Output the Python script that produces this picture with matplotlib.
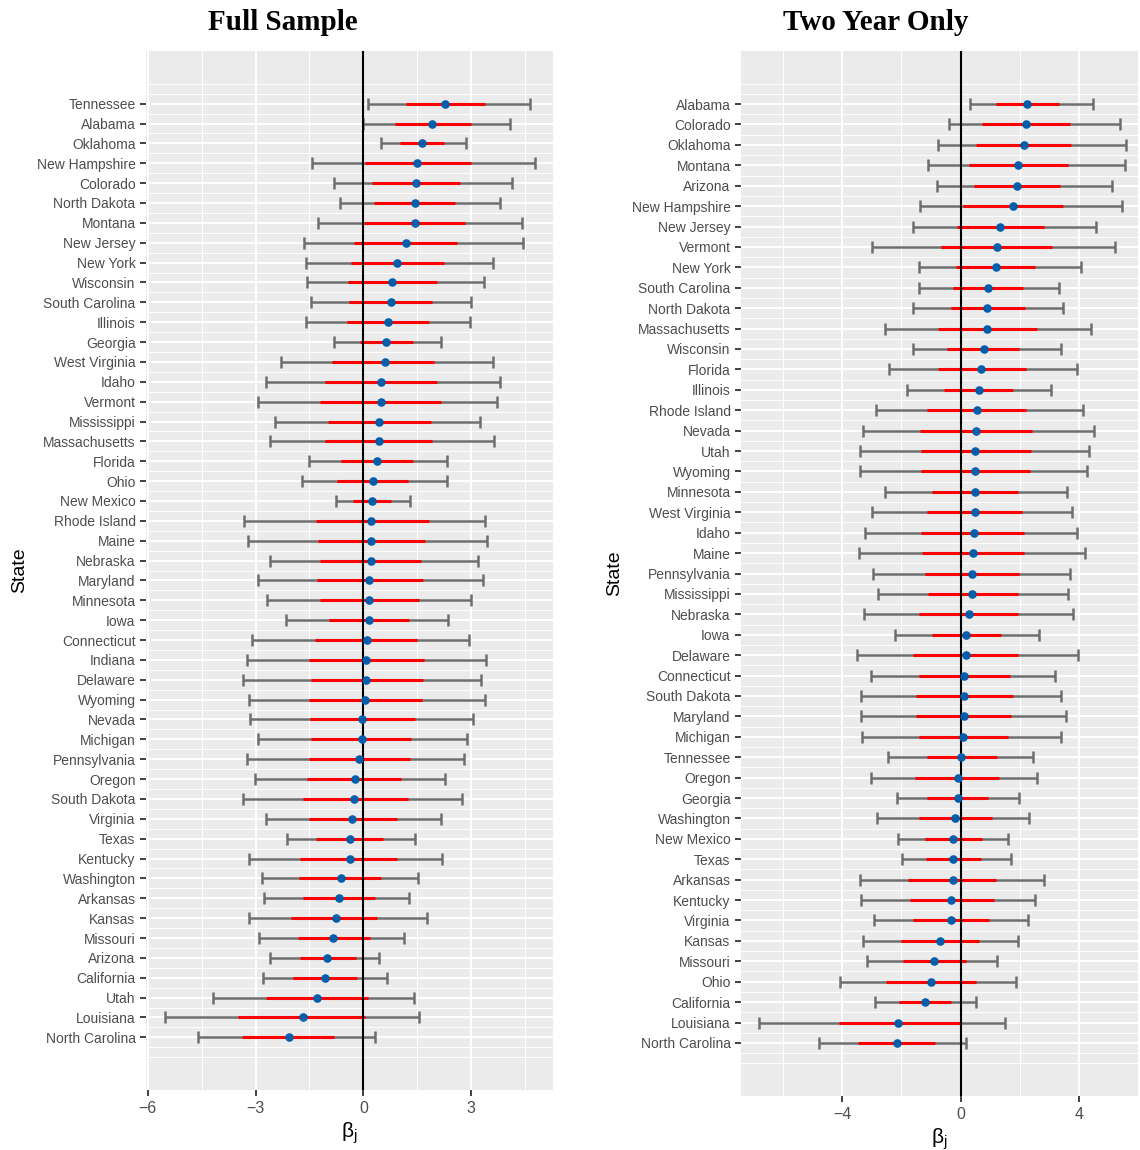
import numpy as np
import matplotlib
matplotlib.use("Agg")
import matplotlib.pyplot as plt

# ---- Full sample (top to bottom) ----
full_states = ["Tennessee", "Alabama", "Oklahoma", "New Hampshire", "Colorado", "North Dakota",
               "Montana", "New Jersey", "New York", "Wisconsin", "South Carolina", "Illinois",
               "Georgia", "West Virginia", "Idaho", "Vermont", "Mississippi", "Massachusetts",
               "Florida", "Ohio", "New Mexico", "Rhode Island", "Maine", "Nebraska", "Maryland",
               "Minnesota", "Iowa", "Connecticut", "Indiana", "Delaware", "Wyoming", "Nevada",
               "Michigan", "Pennsylvania", "Oregon", "South Dakota", "Virginia", "Texas",
               "Kentucky", "Washington", "Arkansas", "Kansas", "Missouri", "Arizona",
               "California", "Utah", "Louisiana", "North Carolina"]
full_est = [2.27, 1.92, 1.62, 1.50, 1.46, 1.44, 1.43, 1.19, 0.94, 0.81, 0.76, 0.69,
            0.64, 0.59, 0.50, 0.48, 0.44, 0.43, 0.38, 0.27, 0.24, 0.22, 0.21, 0.21, 0.17,
            0.17, 0.15, 0.09, 0.08, 0.07, 0.05, -0.03, -0.05, -0.13, -0.24, -0.26, -0.31,
            -0.38, -0.38, -0.62, -0.69, -0.77, -0.85, -1.00, -1.06, -1.29, -1.68, -2.06]
full_lo_in = [1.20, 0.89, 1.02, 0.06, 0.24, 0.30, 0.02, -0.26, -0.33, -0.42, -0.39, -0.46,
              -0.10, -0.86, -1.06, -1.20, -0.99, -1.06, -0.61, -0.72, -0.28, -1.33, -1.27,
              -1.21, -1.30, -1.20, -0.95, -1.34, -1.51, -1.45, -1.51, -1.48, -1.46, -1.52,
              -1.56, -1.68, -1.52, -1.32, -1.75, -1.78, -1.69, -2.00, -1.83, -1.75, -1.95,
              -2.71, -3.49, -3.37]
full_hi_in = [3.40, 2.99, 2.24, 2.99, 2.70, 2.56, 2.82, 2.62, 2.24, 2.05, 1.92, 1.82,
              1.39, 1.98, 2.05, 2.16, 1.88, 1.91, 1.37, 1.23, 0.77, 1.83, 1.73, 1.60, 1.66,
              1.56, 1.26, 1.49, 1.68, 1.66, 1.62, 1.44, 1.34, 1.31, 1.05, 1.23, 0.93, 0.55,
              0.94, 0.48, 0.32, 0.39, 0.18, -0.20, -0.17, 0.12, 0.06, -0.83]
full_lo_out = [0.13, 0.00, 0.48, -1.44, -0.81, -0.65, -1.26, -1.64, -1.59, -1.56, -1.45,
               -1.60, -0.83, -2.29, -2.71, -2.94, -2.45, -2.61, -1.52, -1.70, -0.77, -3.33,
               -3.20, -2.59, -2.93, -2.68, -2.14, -3.11, -3.25, -3.34, -3.19, -3.16, -2.92,
               -3.25, -3.01, -3.34, -2.70, -2.13, -3.17, -2.83, -2.76, -3.18, -2.90, -2.59,
               -2.79, -4.19, -5.53, -4.60]
full_hi_out = [4.63, 4.08, 2.86, 4.77, 4.13, 3.81, 4.43, 4.44, 3.60, 3.35, 3.01, 2.96,
               2.15, 3.61, 3.81, 3.72, 3.24, 3.63, 2.32, 2.34, 1.30, 3.40, 3.44, 3.19, 3.33,
               2.99, 2.37, 2.93, 3.41, 3.27, 3.40, 3.04, 2.88, 2.81, 2.28, 2.74, 2.15, 1.44,
               2.19, 1.51, 1.28, 1.78, 1.13, 0.45, 0.67, 1.42, 1.54, 0.32]

# ---- Two year only (top to bottom) ----
two_states = ["Alabama", "Colorado", "Oklahoma", "Montana", "Arizona", "New Hampshire",
              "New Jersey", "Vermont", "New York", "South Carolina", "North Dakota",
              "Massachusetts", "Wisconsin", "Florida", "Illinois", "Rhode Island", "Nevada",
              "Utah", "Wyoming", "Minnesota", "West Virginia", "Idaho", "Maine", "Pennsylvania",
              "Mississippi", "Nebraska", "Iowa", "Delaware", "Connecticut", "South Dakota",
              "Maryland", "Michigan", "Tennessee", "Oregon", "Georgia", "Washington",
              "New Mexico", "Texas", "Arkansas", "Kentucky", "Virginia", "Kansas", "Missouri",
              "Ohio", "California", "Louisiana", "North Carolina"]
two_est = [2.26, 2.20, 2.14, 1.95, 1.90, 1.79, 1.34, 1.22, 1.19, 0.92, 0.91, 0.89, 0.78,
           0.69, 0.61, 0.56, 0.54, 0.50, 0.50, 0.50, 0.49, 0.45, 0.41, 0.40, 0.40, 0.28,
           0.19, 0.18, 0.13, 0.11, 0.11, 0.08, 0.03, -0.10, -0.10, -0.18, -0.25, -0.25,
           -0.27, -0.32, -0.32, -0.69, -0.90, -0.99, -1.19, -2.10, -2.15]
two_lo_in = [1.21, 0.72, 0.54, 0.28, 0.47, 0.09, -0.13, -0.65, -0.16, -0.27, -0.32, -0.77,
             -0.46, -0.76, -0.56, -1.13, -1.36, -1.33, -1.32, -0.97, -1.13, -1.32, -1.30,
             -1.20, -1.10, -1.40, -0.95, -1.62, -1.40, -1.52, -1.51, -1.41, -1.12, -1.54,
             -1.12, -1.41, -1.20, -1.17, -1.78, -1.71, -1.61, -2.01, -1.96, -2.51, -2.07,
             -4.10, -3.47]
two_hi_in = [3.32, 3.70, 3.73, 3.64, 3.37, 3.45, 2.83, 3.09, 2.52, 2.12, 2.18, 2.59, 1.99,
             2.21, 1.76, 2.21, 2.40, 2.38, 2.35, 1.96, 2.08, 2.16, 2.15, 1.99, 1.95, 1.93,
             1.37, 1.93, 1.66, 1.78, 1.70, 1.61, 1.22, 1.30, 0.94, 1.08, 0.71, 0.68, 1.19,
             1.12, 0.97, 0.61, 0.20, 0.53, -0.31, 0.00, -0.86]
two_lo_out = [0.31, -0.40, -0.75, -1.09, -0.78, -1.38, -1.59, -2.99, -1.40, -1.40, -1.61,
              -2.55, -1.60, -2.42, -1.80, -2.87, -3.31, -3.39, -3.39, -2.55, -2.99, -3.23,
              -3.44, -2.96, -2.78, -3.26, -2.22, -3.51, -3.01, -3.36, -3.38, -3.33, -2.45,
              -3.03, -2.14, -2.82, -2.11, -1.98, -3.39, -3.38, -2.94, -3.28, -3.16, -4.07,
              -2.89, -6.80, -4.78]
two_hi_out = [4.48, 5.38, 5.61, 5.57, 5.11, 5.45, 4.58, 5.22, 4.06, 3.33, 3.46, 4.41, 3.41,
              3.94, 3.05, 4.13, 4.50, 4.34, 4.29, 3.59, 3.78, 3.94, 4.20, 3.69, 3.64, 3.81,
              2.67, 3.98, 3.18, 3.41, 3.55, 3.39, 2.45, 2.58, 1.99, 2.33, 1.62, 1.70, 2.82,
              2.53, 2.29, 1.96, 1.25, 1.88, 0.53, 1.49, 0.19]

plt.rcParams['font.family'] = ['Liberation Sans', 'DejaVu Sans']
plt.rcParams['mathtext.fontset'] = 'custom'
plt.rcParams['mathtext.rm'] = 'Liberation Sans'
plt.rcParams['mathtext.it'] = 'Liberation Sans'

fig = plt.figure(figsize=(11.4, 11.5), dpi=100)


def draw_panel(ax, states, est, lo_in, hi_in, lo_out, hi_out, xlim, xmaj, xmin, pad):
    n = len(states)
    y = np.arange(n)[::-1]
    est = np.array(est)
    lo_in, hi_in = np.array(lo_in), np.array(hi_in)
    lo_out, hi_out = np.array(lo_out), np.array(hi_out)

    ax.set_facecolor("#EBEBEB")
    for s in ax.spines.values():
        s.set_visible(False)

    # outer interval with caps
    ax.errorbar(est, y, xerr=[est - lo_out, hi_out - est], fmt="none",
                ecolor="#6E6E6E", elinewidth=1.8, capsize=4, capthick=1.8, zorder=2)
    # inner interval
    ax.hlines(y, lo_in, hi_in, color="#FF0000", linewidth=2.2, zorder=3)
    ax.axvline(0, color="black", linewidth=1.5, zorder=4)
    ax.scatter(est, y, s=38, color="#005DAA", zorder=5, linewidths=0)

    ax.set_xlim(*xlim)
    ax.set_ylim(-pad, n - 1 + pad)
    ax.set_xticks(xmaj)
    ax.set_xticks(xmin, minor=True)
    ax.set_yticks(y)
    ax.set_yticklabels(states)
    ymin = [v for v in np.arange(-1, n + 0.1, 0.5) if v < 0 or v > n - 1 or v % 1]
    ax.set_yticks(ymin, minor=True)

    ax.grid(which="major", color="white", linewidth=1.4)
    ax.grid(which="minor", color="white", linewidth=0.7)
    ax.set_axisbelow(True)
    ax.tick_params(which="major", length=4, width=1.3, color="#333333",
                   labelcolor="#4D4D4D", labelsize=10)
    ax.tick_params(which="minor", length=0)
    ax.tick_params(axis="x", pad=4, labelsize=11.5)
    ax.set_xlabel(r"$\mathregular{\beta_j}$", fontsize=15, labelpad=3)
    ax.set_ylabel("State", fontsize=14, labelpad=6)


ax1 = fig.add_axes([146 / 1140, 60 / 1150, 407 / 1140, 1039 / 1150])
draw_panel(ax1, full_states, full_est, full_lo_in, full_hi_in, full_lo_out, full_hi_out,
           (-6.05, 5.28), [-6, -3, 0, 3], [-4.5, -1.5, 1.5, 4.5], 2.65)

ax2 = fig.add_axes([741 / 1140, 54 / 1150, 397 / 1140, 1045 / 1150])
draw_panel(ax2, two_states, two_est, two_lo_in, two_hi_in, two_lo_out, two_hi_out,
           (-7.42, 5.93), [-4, 0, 4], [-6, -2, 2, 6], 2.6)

fig.text(283 / 1140, 1 - 22 / 1150, "Full Sample", ha="center", va="center",
         fontsize=21, fontweight="bold", family="Liberation Serif")
fig.text(876 / 1140, 1 - 22 / 1150, "Two Year Only", ha="center", va="center",
         fontsize=21, fontweight="bold", family="Liberation Serif")

fig.savefig("out.png", dpi=100)
